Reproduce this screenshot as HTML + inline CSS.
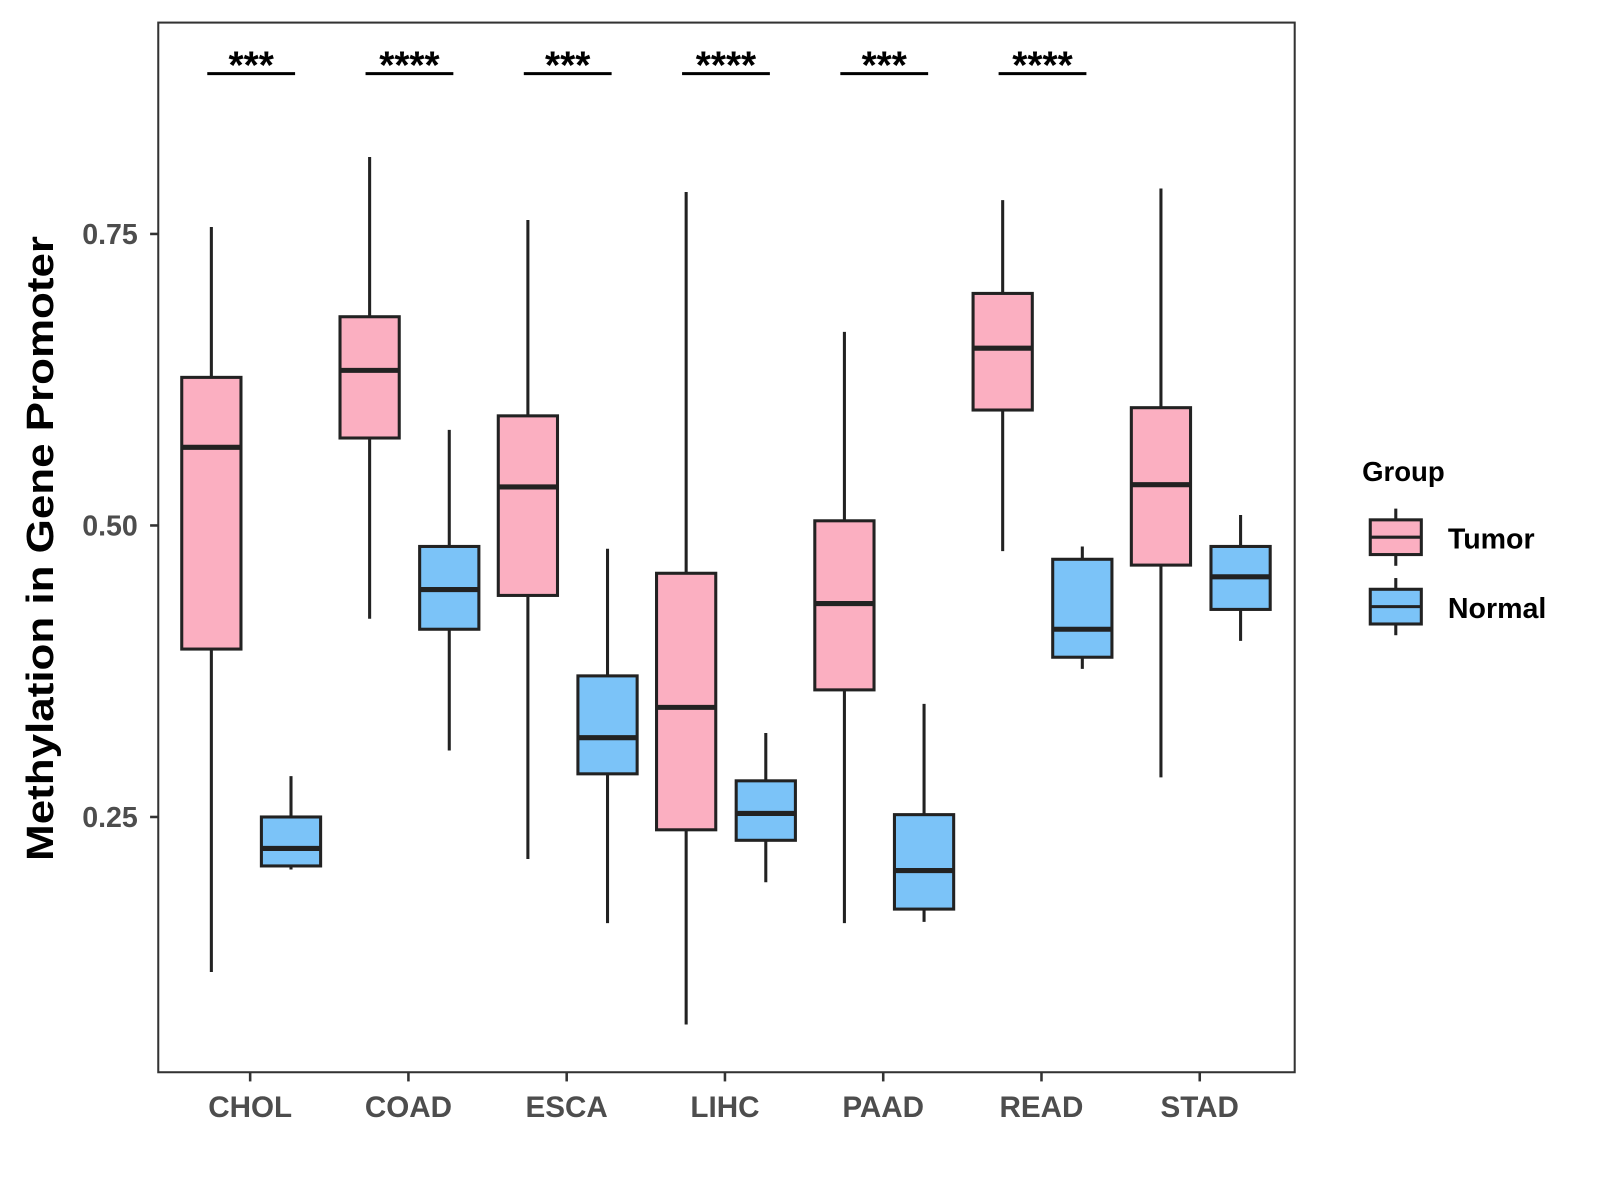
<!DOCTYPE html>
<html><head><meta charset="utf-8"><style>html,body{margin:0;background:#fff}svg{display:block}text{font-family:"Liberation Sans",Arial,sans-serif;font-weight:bold}</style></head>
<body>
<svg id="chart" width="1600" height="1200" viewBox="0 0 1567 1175" xmlns="http://www.w3.org/2000/svg">
<rect x="155" y="22" width="1113" height="1028" fill="#fff" stroke="#333" stroke-width="2"/>
<g id="marks"></g>
<text transform="translate(52,537) rotate(-90)" text-anchor="middle" font-size="37" textLength="612" lengthAdjust="spacingAndGlyphs" fill="#000">Methylation in Gene Promoter</text>
<g>
<text x="1334" y="471" font-size="27" fill="#000">Group</text>
<g>
<line x1="1367" y1="498" x2="1367" y2="554" stroke="#222" stroke-width="3"/>
<rect x="1342" y="509" width="50" height="34" fill="#fbafc1" stroke="#222" stroke-width="3"/>
<line x1="1342" y1="526" x2="1392" y2="526" stroke="#222" stroke-width="3"/>
<text x="1418" y="537" font-size="28" fill="#000">Tumor</text></g>
<g>
<line x1="1367" y1="566" x2="1367" y2="622" stroke="#222" stroke-width="3"/>
<rect x="1342" y="577" width="50" height="34" fill="#7bc3f8" stroke="#222" stroke-width="3"/>
<line x1="1342" y1="594" x2="1392" y2="594" stroke="#222" stroke-width="3"/>
<text x="1418" y="605" font-size="28" fill="#000">Normal</text></g>
</g>
</svg>
<script>
const categories=["CHOL","COAD","ESCA","LIHC","PAAD","READ","STAD"];
const tumorStats=[[0.117,0.394,0.567,0.627,0.756],[0.420,0.575,0.633,0.679,0.816],[0.214,0.440,0.533,0.594,0.762],[0.072,0.239,0.344,0.459,0.786],[0.159,0.359,0.433,0.504,0.666],[0.478,0.599,0.652,0.699,0.779],[0.284,0.466,0.535,0.601,0.789]];
const normalStats=[[0.205,0.208,0.223,0.250,0.285],[0.307,0.411,0.445,0.482,0.582],[0.159,0.287,0.318,0.371,0.480],[0.194,0.230,0.253,0.281,0.322],[0.160,0.171,0.204,0.252,0.347],[0.377,0.387,0.411,0.471,0.482],[0.401,0.428,0.456,0.482,0.509]];
const significance=["***","****","***","****","***","****"];
const yTicks=[0.25,0.50,0.75];
const yTickLabels=["0.25","0.50","0.75"];
const NS="http://www.w3.org/2000/svg";
const g=document.getElementById('marks');
function yS(v){return 229+(0.75-v)*1142;}
function xS(i){return 245+i*155;}
function mk(t,a,p){const e=document.createElementNS(NS,t);for(const k in a)e.setAttribute(k,a[k]);(p||g).appendChild(e);return e;}
yTicks.forEach((v,i)=>{
 const t=mk('line',{x1:147,x2:155,y1:yS(v),y2:yS(v),stroke:'#333','stroke-width':2.5});
 
 
 const l=mk('text',{x:135,y:yS(v)+10,'text-anchor':'end','font-size':28,fill:'#4d4d4d'});
 l.textContent=yTickLabels[i];
 
 
});
function box(s,cx,fill,name){
 const grp=mk('g',{});
 
 
 mk('line',{x1:cx,x2:cx,y1:yS(s[0]),y2:yS(s[4]),stroke:'#222','stroke-width':3},grp);
 mk('rect',{x:cx-29,y:yS(s[3]),width:58,height:yS(s[1])-yS(s[3]),fill:fill,stroke:'#222','stroke-width':3},grp);
 mk('line',{x1:cx-29,x2:cx+29,y1:yS(s[2]),y2:yS(s[2]),stroke:'#222','stroke-width':5},grp);
}
categories.forEach((c,i)=>{
 const x=xS(i);
 box(tumorStats[i],x-38,'#fbafc1','box-tumor-'+c.toLowerCase());
 box(normalStats[i],x+40,'#7bc3f8','box-normal-'+c.toLowerCase());
 const t=mk('line',{x1:x,x2:x,y1:1050,y2:1059,stroke:'#333','stroke-width':2.5});
 
 
 const l=mk('text',{x:x,y:1094,'text-anchor':'middle','font-size':29,fill:'#4d4d4d'});
 l.textContent=c;
 
 
 if(i<significance.length){
  const b=mk('line',{x1:x-42,x2:x+44,y1:72,y2:72,stroke:'#000','stroke-width':3});
  
  
  const s=mk('text',{x:x+1,y:77,'text-anchor':'middle','font-size':38,fill:'#000'});
  s.textContent=significance[i];
  
  
 }
});
</script>
</body></html>
